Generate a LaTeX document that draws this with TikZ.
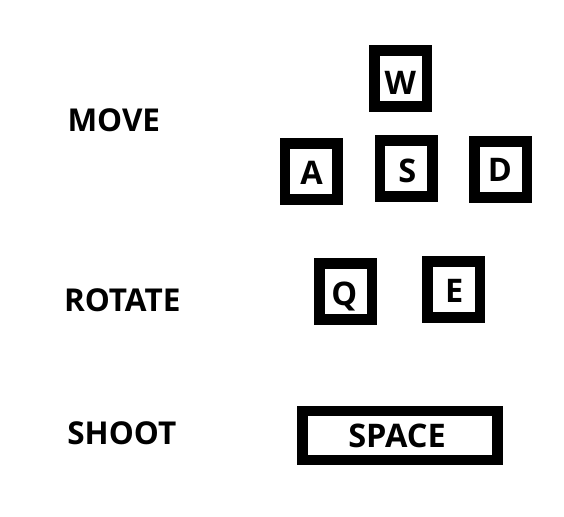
\documentclass[tikz,border=0pt]{standalone}
\usepackage{fontspec}
\setmainfont{Open Sans}
\newfontfamily\keyfont{Open Sans Bold}
\begin{document}
\begin{tikzpicture}[x=1pt,y=-1pt,
  keybox/.style={draw=black,line width=10.5pt,minimum width=#1,minimum height=56pt,inner sep=0pt,outer sep=0pt},
  keybox/.default=52.5pt,
  keytxt/.style={font=\keyfont\fontsize{32.5}{32.5}\selectfont,inner sep=0pt,anchor=base},
  lbl/.style={font=\keyfont\fontsize{31.5}{31.5}\selectfont,inner sep=0pt,anchor=base}]
\useasboundingbox (0,0) rectangle (564,516);
% frames
\node[keybox] (kw) at (400.5,78.3) {};
\node[keybox] (ka) at (311.3,171.5) {};
\node[keybox] (ks) at (406.3,168.3) {};
\node[keybox] (kd) at (500.7,169.3) {};
\node[keybox] (kq) at (345.5,291.5) {};
\node[keybox] (ke) at (453.7,289.3) {};
\node[draw=black,line width=10.5pt,minimum width=195pt,minimum height=49pt,inner sep=0pt] (kspace) at (400,435.3) {};
% letters
\node[keytxt] (tw) at (400.3,95) {W};
\node[keytxt] (ta) at (311.5,184) {A};
\node[keytxt] (ts) at (407.3,182.7) {S};
\node[keytxt] (td) at (500,181.7) {D};
\node[keytxt] (tq) at (344.3,305) {Q};
\node[keytxt] (te) at (454.2,302.3) {E};
\node[keytxt] (tspace) at (397,447) {SPACE};
% labels
\node[lbl] (move) at (113.8,131) {MOVE};
\node[lbl] (rotate) at (122.2,311) {ROTATE};
\node[lbl] (shoot) at (121.8,444.8) {SHOOT};
\end{tikzpicture}
\end{document}
